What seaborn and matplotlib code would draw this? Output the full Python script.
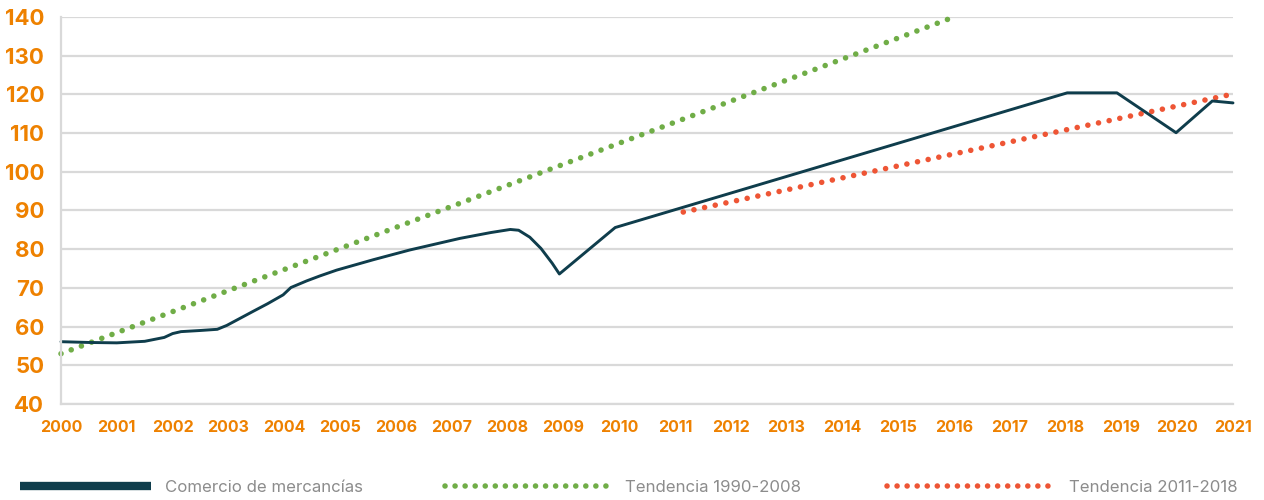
import pandas as pd
import matplotlib
matplotlib.use("Agg")
import matplotlib.pyplot as plt
from matplotlib.lines import Line2D
import seaborn as sns

# series
years = [2000.0, 2000.5, 2001.0, 2001.5, 2001.85, 2002.0, 2002.15, 2002.5, 2002.8,
         2002.97, 2003.45, 2003.7, 2003.98, 2004.12, 2004.4, 2004.64, 2004.94,
         2005.6, 2006.25, 2007.15, 2007.7, 2008.05, 2008.2, 2008.4, 2008.6,
         2008.8, 2008.93, 2009.93, 2018.03, 2018.92, 2019.98, 2020.63, 2021.0]
comercio = [56.1, 55.9, 55.8, 56.2, 57.2, 58.2, 58.7, 59.0, 59.3,
            60.3, 64.0, 65.9, 68.2, 70.1, 71.8, 73.1, 74.6,
            77.3, 79.8, 82.8, 84.3, 85.1, 84.9, 83.1, 80.2,
            76.4, 73.6, 85.6, 120.4, 120.4, 110.1, 118.3, 117.8]

trend1_years = [2000, 2016]
trend1_values = [53, 140]

trend2_years = [2011.15, 2021]
trend2_values = [89.6, 120.1]

x_ticks = list(range(2000, 2022))
y_ticks = list(range(40, 141, 10))

labels = ["Comercio de mercancías", "Tendencia 1990-2008", "Tendencia 2011-2018"]

navy = "#0F3D4C"
green = "#70AD47"
red = "#EE5535"
orange = "#EE8100"
grid_grey = "#D9D9D9"
text_grey = "#8C8C8C"

df_main = pd.DataFrame({"year": years, "value": comercio})
df_t1 = pd.DataFrame({"year": trend1_years, "value": trend1_values})
df_t2 = pd.DataFrame({"year": trend2_years, "value": trend2_values})

sns.set_style("white")
plt.rcParams["font.family"] = ["Inter", "DejaVu Sans"]

fig = plt.figure(figsize=(12.64, 5), dpi=100)
ax = fig.add_axes([61 / 1264, 96 / 500, 1172 / 1264, 387 / 500])

dots = (0, (0.01, 1.95))
sns.lineplot(data=df_t1, x="year", y="value", ax=ax, color=green, lw=4,
             linestyle=dots, dash_capstyle="round", clip_on=False)
sns.lineplot(data=df_t2, x="year", y="value", ax=ax, color=red, lw=4,
             linestyle=dots, dash_capstyle="round", clip_on=False)
sns.lineplot(data=df_main, x="year", y="value", ax=ax, color=navy, lw=2.1,
             clip_on=False)

ax.set_xlim(2000, 2021)
ax.set_ylim(40, 140)
ax.set_xticks(x_ticks)
ax.set_xticklabels([str(y) for y in x_ticks])
ax.set_yticks(y_ticks)
ax.set_xlabel("")
ax.set_ylabel("")

ax.grid(axis="y", color=grid_grey, lw=1.6)
ax.set_axisbelow(True)
for side in ["top", "right"]:
    ax.spines[side].set_visible(False)
for side in ["left", "bottom"]:
    ax.spines[side].set_color(grid_grey)
    ax.spines[side].set_linewidth(1.6)

ax.tick_params(axis="x", direction="inout", length=11, width=1.6, color=grid_grey,
               labelsize=11.5, labelcolor=orange, pad=6)
ax.tick_params(axis="y", length=0, labelsize=16, labelcolor=orange, pad=12)
for lab in ax.get_xticklabels() + ax.get_yticklabels():
    lab.set_fontweight("bold")

# legend: three separate entries along the bottom
handles = [
    Line2D([], [], color=navy, lw=6, solid_capstyle="butt"),
    Line2D([], [], color=green, lw=4, linestyle=(0, (0.01, 1.8)), dash_capstyle="round"),
    Line2D([], [], color=red, lw=4, linestyle=(0, (0.01, 1.8)), dash_capstyle="round"),
]
starts = [20, 445, 887]
hlens = [7.8, 9.7, 9.7]
pads = [0.85, 1.0, 1.15]
for h, lab, x0, hl, tp in zip(handles, labels, starts, hlens, pads):
    leg = fig.legend(handles=[h], labels=[lab], loc="center left",
                     bbox_to_anchor=(x0 / 1264, 1 - 487 / 500), frameon=False,
                     borderpad=0, borderaxespad=0, handlelength=hl,
                     handletextpad=tp, fontsize=12.1)
    for t in leg.get_texts():
        t.set_color(text_grey)

fig.savefig("out.png", dpi=100)
